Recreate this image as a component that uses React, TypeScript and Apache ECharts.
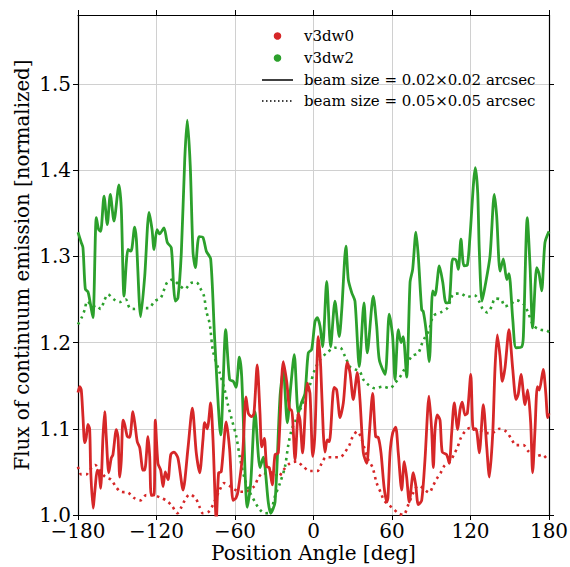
import React, { useEffect, useRef } from "react";
import * as echarts from "echarts";

// x: position angle [deg], y: normalized flux
const v3dw2Fine: [number, number][] = [
  [-180, 1.328], [-177.5, 1.316], [-176.2, 1.31], [-174.4, 1.262], [-172.4, 1.259], [-171.1, 1.25],
  [-168.6, 1.229], [-166.0, 1.345], [-164.2, 1.331], [-162.7, 1.329], [-160.1, 1.37], [-157.6, 1.337],
  [-155.3, 1.372], [-152.5, 1.341], [-148.7, 1.383], [-146.9, 1.355], [-144.8, 1.254], [-141.8, 1.308],
  [-139.7, 1.306], [-138.7, 1.31], [-136.7, 1.334], [-135.4, 1.32], [-132.1, 1.23], [-129.0, 1.277],
  [-125.7, 1.351], [-123.4, 1.331], [-121.9, 1.308], [-119.6, 1.331], [-117.6, 1.326], [-114.3, 1.333],
  [-111.7, 1.316], [-108.7, 1.31], [-106.9, 1.265], [-105.6, 1.248], [-103.6, 1.252], [-101.0, 1.305],
  [-98.4, 1.413], [-96.5, 1.458], [-94.2, 1.405], [-92.1, 1.305], [-90.3, 1.287], [-87.5, 1.323],
  [-84.5, 1.322], [-81.9, 1.306], [-78.6, 1.297], [-75.5, 1.203], [-70.9, 1.093], [-67.1, 1.215],
  [-64.1, 1.157], [-61.3, 1.155], [-59.2, 1.148], [-56.7, 1.183], [-54.9, 1.161], [-50.6, 1.009],
  [-48.0, 1.037], [-44.7, 1.12], [-40.9, 1.055], [-38.4, 1.067], [-34.5, 1.014], [-32.7, 1.002],
  [-29.4, 1.015], [-25.6, 1.137], [-23.1, 1.168], [-20.0, 1.107], [-17.4, 1.149], [-14.7, 1.186],
  [-11.6, 1.118], [-9.0, 1.131], [-6.5, 1.141], [-4.0, 1.188], [-1.4, 1.192], [1.1, 1.224],
  [2.9, 1.229], [5.0, 1.219], [7.0, 1.195], [10.1, 1.271], [13.1, 1.195], [16.4, 1.248],
  [19.7, 1.207], [21.6, 1.238], [24.8, 1.312], [26.6, 1.273], [29.2, 1.258], [31.7, 1.248],
  [35.0, 1.172], [38.6, 1.246], [41.1, 1.188], [45.7, 1.254], [48.3, 1.219], [50.3, 1.18],
  [54.7, 1.163], [57.9, 1.233], [60.5, 1.207], [62.3, 1.157], [64.8, 1.215], [66.9, 1.2],
  [68.6, 1.207], [71.2, 1.16], [73.8, 1.27], [75.8, 1.285], [78.3, 1.328], [80.1, 1.3],
  [82.7, 1.238], [83.9, 1.236], [86.0, 1.215], [88.5, 1.178], [91.1, 1.26], [92.9, 1.255],
  [96.2, 1.289], [98.8, 1.27], [101.3, 1.246], [103.8, 1.247], [106.4, 1.297], [108.9, 1.296],
  [110.7, 1.285], [112.7, 1.32], [115.0, 1.289], [117.6, 1.29], [119.6, 1.323], [123.7, 1.403],
  [125.5, 1.374], [126.7, 1.308], [128.8, 1.248], [131.1, 1.265], [134.9, 1.3], [138.2, 1.372],
  [140.0, 1.347], [142.6, 1.283], [145.1, 1.297], [147.7, 1.273], [149.4, 1.28], [152.3, 1.227],
  [154.8, 1.194], [159.1, 1.195], [160.4, 1.207], [163.4, 1.345], [165.5, 1.289], [167.5, 1.217],
  [170.6, 1.287], [172.4, 1.28], [174.4, 1.26], [176.9, 1.316], [180, 1.329],
];

const v3dw2Coarse: [number, number][] = [
  [-180, 1.221], [-176.9, 1.23], [-174.9, 1.238], [-172.9, 1.248], [-168.5, 1.242], [-166.0, 1.243],
  [-162.7, 1.239], [-160.1, 1.248], [-157.1, 1.256], [-152.5, 1.25], [-148.1, 1.247], [-143.5, 1.25],
  [-140.5, 1.24], [-136.7, 1.239], [-131.6, 1.24], [-126.0, 1.24], [-121.4, 1.248], [-116.8, 1.252],
  [-114.3, 1.261], [-111.7, 1.27], [-107.9, 1.273], [-102.8, 1.267], [-98.4, 1.262], [-93.9, 1.269],
  [-89.6, 1.27], [-86.5, 1.263], [-83.7, 1.254], [-81.9, 1.236], [-80.1, 1.227], [-78.9, 1.217],
  [-76.8, 1.19], [-71.7, 1.165], [-67.9, 1.145], [-65.4, 1.128], [-62.3, 1.11], [-59.0, 1.091],
  [-56.2, 1.066], [-52.4, 1.041], [-48.5, 1.026], [-44.7, 1.015], [-40.9, 1.006], [-37.1, 1.002],
  [-33.2, 1.003], [-29.4, 1.022], [-25.6, 1.037], [-21.8, 1.056], [-19.3, 1.081], [-16.7, 1.099],
  [-14.1, 1.108], [-10.3, 1.122], [-6.5, 1.137], [-2.7, 1.151], [1.1, 1.169], [5.0, 1.18],
  [10.1, 1.188], [16.4, 1.194], [20.3, 1.194], [24.1, 1.184], [27.9, 1.172], [31.7, 1.169],
  [35.5, 1.166], [38.1, 1.157], [41.9, 1.151], [47.0, 1.147], [52.9, 1.149], [58.5, 1.147],
  [62.3, 1.153], [66.1, 1.16], [69.4, 1.169], [75.1, 1.184], [80.1, 1.188], [82.7, 1.198],
  [85.2, 1.206], [88.5, 1.215], [91.6, 1.231], [97.2, 1.235], [102.3, 1.24], [106.9, 1.256],
  [112.0, 1.257], [117.6, 1.253], [122.9, 1.255], [127.3, 1.246], [129.3, 1.239], [132.8, 1.235],
  [136.2, 1.242], [138.7, 1.251], [143.3, 1.25], [146.4, 1.242], [151.0, 1.245], [155.3, 1.249],
  [160.4, 1.245], [163.7, 1.236], [168.0, 1.22], [173.1, 1.215], [178.2, 1.214], [180, 1.212],
];

const v3dw0Fine: [number, number][] = [
  [-180, 1.142], [-178.7, 1.149], [-177.5, 1.145], [-176.2, 1.114], [-174.9, 1.084], [-173.7, 1.09],
  [-172.4, 1.105], [-171.1, 1.1], [-170.3, 1.052], [-168.5, 1.008], [-166.8, 1.033], [-165.3, 1.052],
  [-164.0, 1.05], [-162.7, 1.031], [-160.9, 1.091], [-159.6, 1.12], [-158.4, 1.091], [-156.5, 1.049],
  [-154.6, 1.066], [-153.3, 1.07], [-150.7, 1.099], [-149.4, 1.09], [-148.1, 1.044], [-146.9, 1.064],
  [-145.6, 1.11], [-144.3, 1.105], [-142.3, 1.091], [-140.5, 1.09], [-138.0, 1.12], [-136.2, 1.102],
  [-134.7, 1.085], [-132.8, 1.078], [-130.3, 1.052], [-129.0, 1.052], [-126.5, 1.091], [-125.2, 1.068],
  [-124.0, 1.023], [-121.9, 1.023], [-120.9, 1.11], [-118.9, 1.06], [-116.8, 1.052], [-115.0, 1.033],
  [-113.3, 1.05], [-111.2, 1.041], [-109.1, 1.07], [-106.6, 1.073], [-103.6, 1.066], [-99.7, 1.029],
  [-95.9, 1.078], [-92.6, 1.124], [-89.6, 1.072], [-87.0, 1.049], [-84.5, 1.087], [-83.2, 1.107],
  [-81.2, 1.1], [-78.6, 1.13], [-76.8, 1.087], [-74.3, 0.995], [-72.5, 1.049], [-70.5, 1.05],
  [-66.7, 1.108], [-64.1, 1.076], [-61.5, 1.017], [-59.2, 1.02], [-57.5, 1.029], [-54.1, 1.072],
  [-51.6, 1.137], [-49.8, 1.118], [-47.2, 1.114], [-45.5, 1.118], [-43.0, 1.174], [-40.9, 1.118],
  [-39.6, 1.079], [-37.6, 1.089], [-35.8, 1.056], [-33.8, 1.055], [-31.5, 1.035], [-29.4, 1.07],
  [-26.9, 1.072], [-23.1, 1.178], [-20.5, 1.155], [-18.0, 1.122], [-16.7, 1.122], [-14.1, 1.064],
  [-11.6, 1.118], [-10.3, 1.11], [-8.3, 1.072], [-4.7, 1.153], [-2.7, 1.141], [-0.6, 1.068],
  [1.1, 1.095], [3.7, 1.207], [5.5, 1.172], [7.5, 1.095], [8.8, 1.073], [10.5, 1.087],
  [12.1, 1.085], [15.7, 1.148], [17.7, 1.145], [20.3, 1.113], [22.8, 1.13], [25.8, 1.177],
  [27.9, 1.165], [30.4, 1.134], [33.5, 1.165], [35.5, 1.134], [38.1, 1.072], [40.7, 1.06],
  [42.7, 1.095], [45.2, 1.141], [47.5, 1.091], [49.5, 1.09], [51.6, 1.072], [53.9, 1.033],
  [56.0, 1.015], [56.9, 1.02], [58.5, 1.072], [60.5, 1.095], [62.8, 1.102], [64.8, 1.072],
  [67.4, 1.029], [69.4, 1.062], [71.2, 1.044], [73.2, 1.015], [76.3, 1.049], [78.1, 1.035],
  [80.1, 1.012], [82.7, 1.017], [85.2, 1.064], [88.3, 1.138], [90.3, 1.099], [91.6, 1.055],
  [92.9, 1.099], [94.6, 1.116], [96.7, 1.11], [98.4, 1.073], [101.8, 1.07], [103.8, 1.06],
  [105.6, 1.095], [107.6, 1.13], [110.2, 1.099], [112.0, 1.122], [113.7, 1.131], [115.8, 1.116],
  [117.6, 1.118], [120.2, 1.163], [122.1, 1.099], [124.2, 1.1], [126.7, 1.072], [129.8, 1.128],
  [132.4, 1.079], [134.4, 1.044], [137.0, 1.095], [138.7, 1.169], [140.5, 1.209], [142.6, 1.184],
  [144.3, 1.155], [146.4, 1.171], [149.4, 1.215], [152.3, 1.169], [154.8, 1.134], [156.5, 1.14],
  [158.6, 1.163], [161.7, 1.128], [163.7, 1.145], [166.0, 1.107], [167.5, 1.049], [169.3, 1.099],
  [171.1, 1.149], [172.6, 1.145], [175.6, 1.169], [177.5, 1.142], [179.0, 1.113], [180, 1.118],
];

const v3dw0Coarse: [number, number][] = [
  [-180, 1.056], [-177.5, 1.047], [-173.7, 1.047], [-171.1, 1.052], [-166.8, 1.058], [-163.4, 1.052],
  [-159.1, 1.044], [-154.6, 1.041], [-151.2, 1.033], [-147.4, 1.027], [-141.8, 1.026], [-137.4, 1.02],
  [-132.4, 1.017], [-127.8, 1.023], [-122.7, 1.023], [-116.8, 1.02], [-111.7, 1.016], [-107.9, 1.01],
  [-104.1, 1.002], [-101.0, 1.009], [-98.4, 1.017], [-94.6, 1.024], [-90.0, 1.019], [-87.0, 1.009],
  [-84.5, 1.002], [-79.9, 1.004], [-76.8, 1.012], [-71.7, 1.029], [-68.4, 1.037], [-64.5, 1.034],
  [-60.8, 1.03], [-56.2, 1.027], [-52.4, 1.027], [-45.5, 1.033], [-42.2, 1.043], [-38.4, 1.049],
  [-34.8, 1.047], [-30.7, 1.05], [-26.9, 1.044], [-23.1, 1.052], [-18.0, 1.06], [-12.8, 1.062],
  [-7.8, 1.056], [-2.7, 1.051], [2.9, 1.051], [6.3, 1.06], [9.6, 1.067], [15.1, 1.067],
  [20.3, 1.067], [24.1, 1.073], [27.4, 1.081], [30.0, 1.091], [33.5, 1.097], [36.3, 1.09],
  [38.6, 1.079], [41.9, 1.064], [45.2, 1.055], [48.3, 1.037], [51.4, 1.026], [53.9, 1.017],
  [57.2, 1.012], [60.5, 1.008], [64.8, 1.002], [68.6, 1.0], [72.5, 1.012], [76.3, 1.026],
  [80.1, 1.034], [82.9, 1.032], [88.5, 1.026], [91.1, 1.033], [94.2, 1.042], [97.2, 1.049],
  [100.0, 1.057], [104.3, 1.062], [107.6, 1.071], [110.2, 1.079], [112.5, 1.089], [115.8, 1.097],
  [119.6, 1.101], [123.4, 1.1], [127.3, 1.098], [131.1, 1.095], [136.2, 1.095], [142.0, 1.1],
  [147.1, 1.097], [151.0, 1.089], [154.8, 1.081], [160.4, 1.081], [164.2, 1.074], [169.8, 1.068],
  [174.9, 1.07], [179.0, 1.064], [180, 1.063],
];

const xTicks = [-180, -120, -60, 0, 60, 120, 180];
const yTicks = [1.0, 1.1, 1.2, 1.3, 1.4, 1.5];
const legendNames = ["v3dw0", "v3dw2", "beam size = 0.02×0.02 arcsec", "beam size = 0.05×0.05 arcsec"];

const RED = "#d62728";
const GREEN = "#2ca02c";
const FONT = "DejaVu Serif";

export default function App() {
  const ref = useRef<HTMLDivElement>(null);
  useEffect(() => {
    if (!ref.current) return;
    const chart = echarts.init(ref.current, undefined, { renderer: "svg" });
    const fmtX = (v: number) => (v < 0 ? "\u2212" + Math.abs(v) : String(v));
    const baseX = {
      type: "value" as const,
      min: -180,
      max: 180,
      interval: 60,
    };
    const baseY = {
      type: "value" as const,
      min: 1.0,
      max: 1.58,
      interval: 0.1,
    };
    const axisLine = { show: true, onZero: false, lineStyle: { color: "#000", width: 1.2 } };
    const tick = { show: true, inside: false, length: 5, lineStyle: { color: "#000", width: 1 } };
    const dotted = [2.5, 4.1];
    const solidSeries = (name: string, data: [number, number][], color: string) => ({
      name,
      type: "line",
      data,
      showSymbol: false,
      smooth: 0.25,
      lineStyle: { color, width: 2.8 },
      z: 3,
    });
    const dottedSeries = (name: string, data: [number, number][], color: string) => ({
      name,
      type: "line",
      data,
      showSymbol: false,
      smooth: 0.3,
      lineStyle: { color, width: 2.6, type: dotted, cap: "butt" },
      z: 2,
    });
    const legendX = 262;
    const textX = 304;
    const legendY = [36, 58, 80, 101];
    chart.setOption({
      animation: false,
      backgroundColor: "#fff",
      grid: { left: 78, right: 21, top: 15, bottom: 52, containLabel: false, outerBoundsMode: "none" },
      xAxis: [
        {
          ...baseX,
          position: "bottom",
          name: "Position Angle [deg]",
          nameLocation: "middle",
          nameGap: 28,
          nameMoveOverlap: false,
          nameTextStyle: { fontFamily: FONT, fontSize: 20, color: "#000" },
          axisLine,
          axisTick: { ...tick, customValues: xTicks },
          axisLabel: {
            formatter: fmtX,
            fontFamily: FONT,
            fontSize: 20,
            color: "#000",
            margin: 6,
            customValues: xTicks,
          },
          splitLine: { show: true, lineStyle: { color: "#d0d0d0", width: 1 } },
        },
        {
          ...baseX,
          position: "top",
          axisLine,
          axisTick: tick,
          axisLabel: { show: false },
          splitLine: { show: false },
        },
      ],
      yAxis: [
        {
          ...baseY,
          position: "left",
          name: "Flux of continuum emission [normalized]",
          nameLocation: "middle",
          nameGap: 46,
          nameMoveOverlap: false,
          nameTextStyle: { fontFamily: FONT, fontSize: 19.8, color: "#000" },
          axisLine,
          axisTick: { ...tick, customValues: yTicks },
          axisLabel: {
            formatter: (v: number) => v.toFixed(1),
            fontFamily: FONT,
            fontSize: 20,
            color: "#000",
            margin: 7,
            customValues: yTicks,
          },
          splitLine: { show: true, lineStyle: { color: "#d0d0d0", width: 1 } },
        },
        {
          ...baseY,
          position: "right",
          axisLine,
          axisTick: { ...tick, customValues: yTicks },
          axisLabel: { show: false },
          splitLine: { show: false },
        },
      ],
      series: [
        dottedSeries("v3dw2 coarse", v3dw2Coarse, GREEN),
        solidSeries("v3dw2 fine", v3dw2Fine, GREEN),
        dottedSeries("v3dw0 coarse", v3dw0Coarse, RED),
        solidSeries("v3dw0 fine", v3dw0Fine, RED),
      ],
      graphic: [
        { type: "circle", shape: { cx: 277.5, cy: legendY[0], r: 3.8 }, style: { fill: RED }, z: 10 },
        { type: "circle", shape: { cx: 277.5, cy: legendY[1], r: 3.8 }, style: { fill: GREEN }, z: 10 },
        {
          type: "line",
          shape: { x1: legendX, y1: legendY[2], x2: legendX + 31, y2: legendY[2] },
          style: { stroke: "#000", lineWidth: 1.5 },
          z: 10,
        },
        {
          type: "line",
          shape: { x1: legendX, y1: legendY[3], x2: legendX + 31, y2: legendY[3] },
          style: { stroke: "#000", lineWidth: 1.5, lineDash: [1.5, 2.5] },
          z: 10,
        },
        ...legendNames.map((t, i) => ({
          type: "text",
          x: textX,
          y: legendY[i],
          style: {
            text: t,
            fontFamily: FONT,
            fontSize: 15,
            fill: "#000",
            verticalAlign: "middle",
            align: "left",
          },
          z: 10,
        })),
      ],
    });
    return () => chart.dispose();
  }, []);
  return (
    <div
      ref={ref}
      style={{ position: "fixed", left: 0, top: 0, width: 570, height: 567, background: "#fff" }}
    />
  );
}
